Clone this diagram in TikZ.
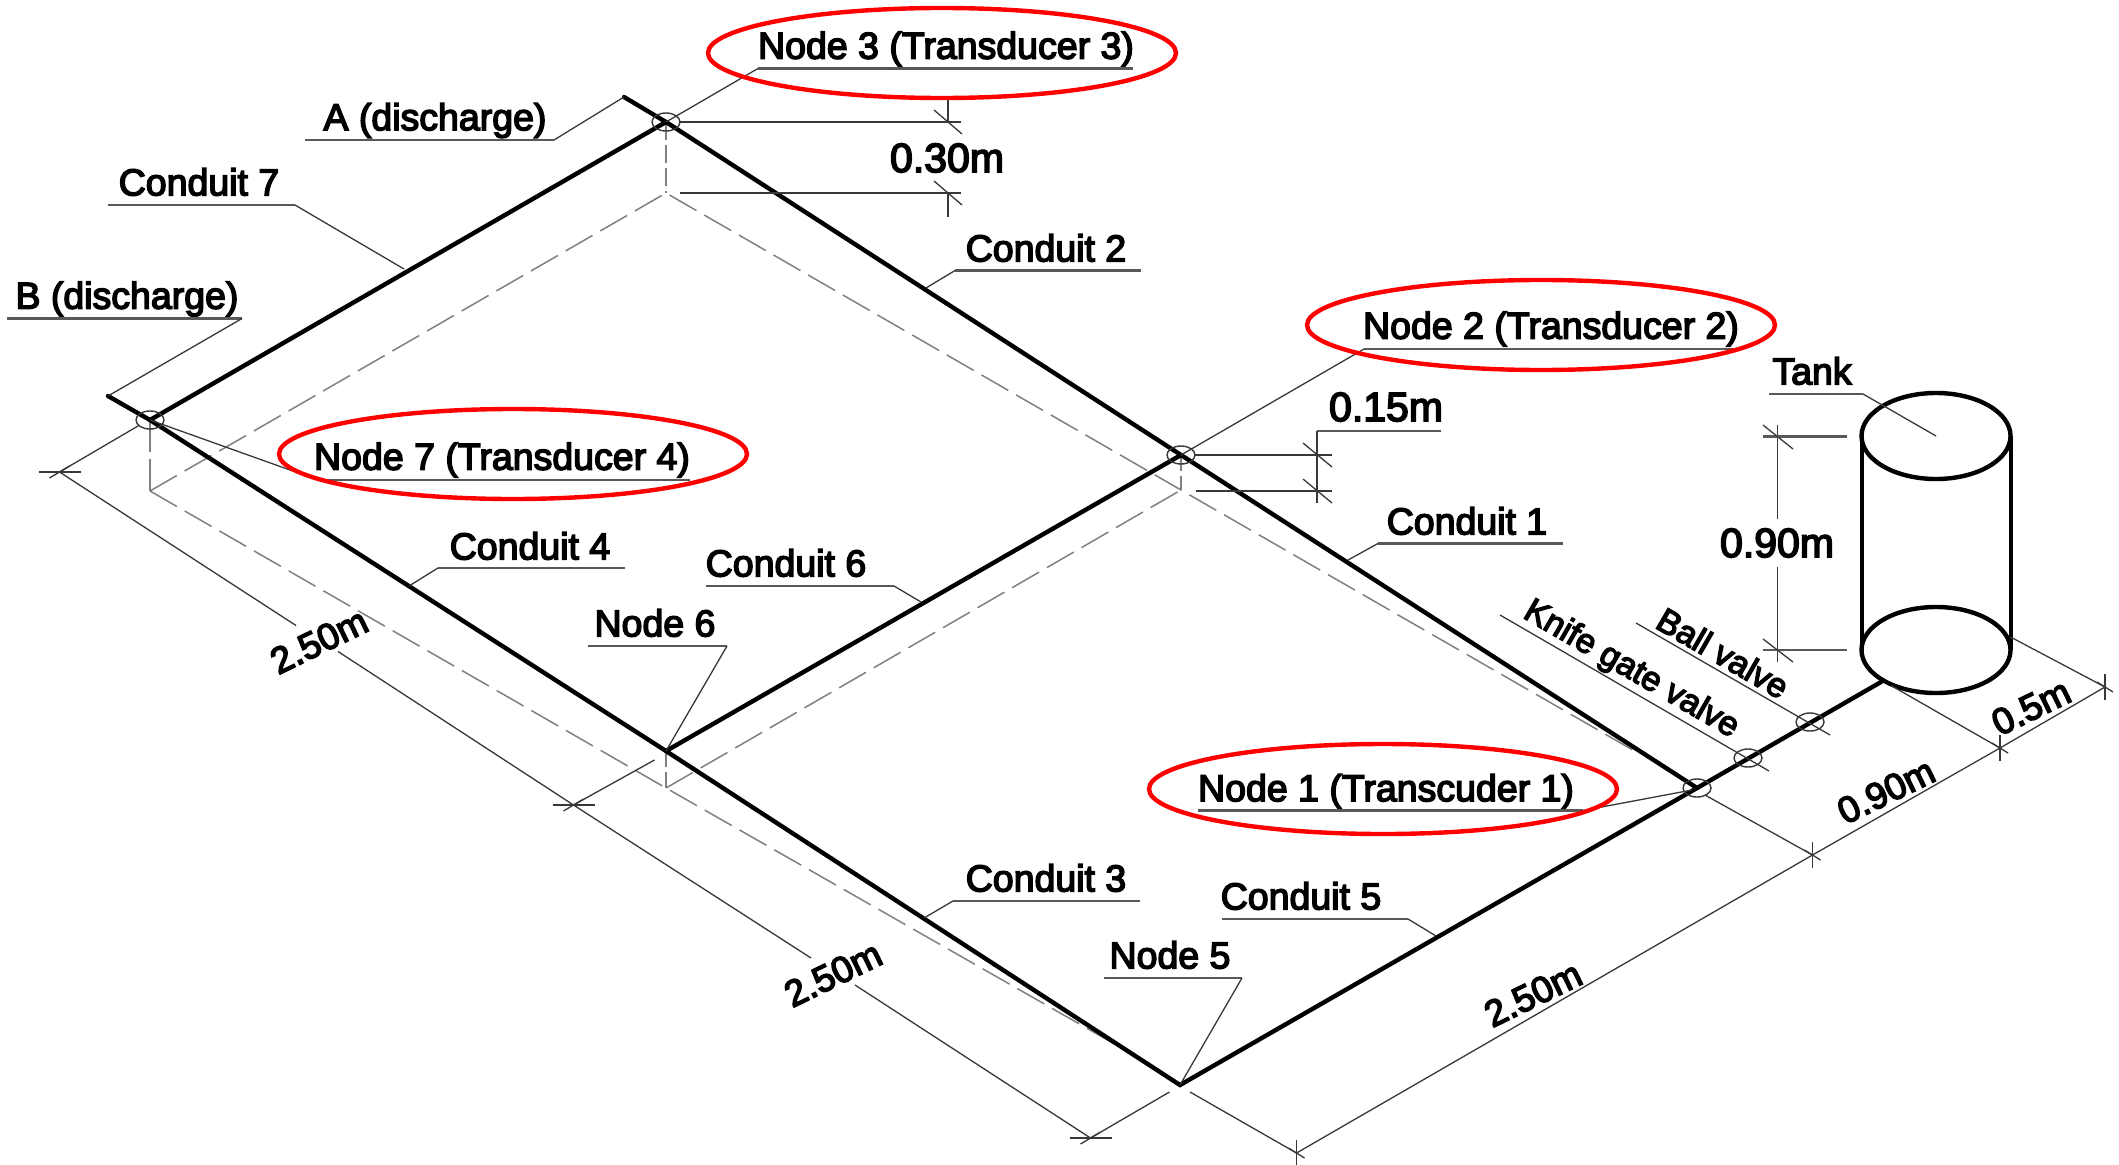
\documentclass[tikz,border=0pt]{standalone}
\usepackage{fontspec}
\setmainfont[FakeBold=4]{Liberation Sans}
\usetikzlibrary{shapes.geometric,calc}
\definecolor{dimc}{gray}{0.22}
\definecolor{dashc}{gray}{0.5}
\tikzset{
  pipe/.style={line width=4.4pt,black,line cap=round,line join=miter},
  tankline/.style={line width=4pt,black},
  hidden/.style={line width=1.5pt,dashc,dash pattern=on 31pt off 9pt},
  dimline/.style={line width=1.3pt,dimc},
  rule/.style={line width=2.3pt,black!65},
  lead/.style={line width=1.3pt,dimc},
  lbl/.style={inner sep=0pt,font=\fontsize{37.5}{37.5}\selectfont,text=black},
  dimlbl/.style={lbl,font=\fontsize{41}{41}\selectfont},
  slantlbl/.style={lbl,font=\fontsize{37}{37}\selectfont},
  valvelbl/.style={lbl,font=\fontsize{34}{34}\selectfont},
  redring/.style={ellipse,draw=red,line width=4.4pt,inner sep=0pt,minimum width=468pt,minimum height=90pt},
  joint/.style={ellipse,draw=dimc,line width=1.4pt,inner sep=0pt,minimum width=28pt,minimum height=18pt},
  tanklid/.style={ellipse,draw=black,line width=4.4pt,inner sep=0pt,minimum width=149pt,minimum height=86pt,fill=white}
}
% label text + underline + leader
\newcommand{\tagline}[8]{%
  \node[lbl] (#1) at (#3,#4) {#2};
  \coordinate (#1a) at (#5,#7);
  \coordinate (#1b) at (#6,#7);
  \draw[rule] (#1a) -- (#1b);
  \draw[lead] (#8) -- (#1b);
}
\newcommand{\tagleft}[8]{%
  \node[lbl] (#1) at (#3,#4) {#2};
  \coordinate (#1a) at (#5,#7);
  \coordinate (#1b) at (#6,#7);
  \draw[rule] (#1a) -- (#1b);
  \draw[lead] (#8) -- (#1a);
}
\begin{document}
\begin{tikzpicture}[x=1pt,y=-1pt]
\useasboundingbox (0,0) rectangle (2119,1164);
\fill[white] (0,0) rectangle (2119,1164);
% ---- plan points
\coordinate (Aend) at (624,97);
\coordinate (Bend) at (108,396);
\coordinate (N3) at (666,122);
\coordinate (N2) at (1181,455);
\coordinate (N1) at (1697,788);
\coordinate (N5) at (1180,1085);
\coordinate (N6) at (666,751);
\coordinate (N7) at (150,420);
\coordinate (TankIn) at (1881,682);
\coordinate (V1) at (1748,758);
\coordinate (V2) at (1810,722);
% ---- hidden (dashed) lower layout
\coordinate (D3) at (666,193);
\coordinate (D2) at (1181,490);
\coordinate (D6) at (666,788);
\coordinate (D7) at (150,491);
\coordinate (D1e) at (1638,753);
\coordinate (D5e) at (1125,1050);
\draw[hidden] (D7) -- (D3) -- (D2) -- (D1e);
\draw[hidden] (D7) -- (D6) -- (D5e);
\draw[hidden] (D6) -- (D2);
\draw[hidden,dash pattern=on 18pt off 5pt] (N3) -- (D3);
\draw[hidden,dash pattern=on 16pt off 5pt] (N2) -- (D2);
\draw[hidden,dash pattern=on 16pt off 5pt] (N6) -- (D6);
\draw[hidden,dash pattern=on 32pt off 7pt] (N7) -- (D7);
% ---- pipes
\draw[pipe] (Aend) -- (N3) -- (N2) -- (N1);
\draw[pipe] (Bend) -- (N7) -- (N6) -- (N5) -- (N1) -- (TankIn);
\draw[pipe] (N7) -- (N3);
\draw[pipe] (N6) -- (N2);
% ---- joints
\node[joint] (J3) at (N3) {};
\node[joint] (J2) at (N2) {};
\node[joint] (J1) at (N1) {};
\node[joint] (J7) at (N7) {};
\node[joint] (JV1) at (V1) {};
\node[joint] (JV2) at (V2) {};
% ---- tank
\node[tanklid] (TB) at (1936,650) {};
\draw[tankline] (1861.5,436) -- (1861.5,650);
\draw[tankline] (2010.5,436) -- (2010.5,650);
\node[tanklid,fill=none] (TT) at (1936,436) {};
\coordinate (TC) at (1936,436);
% ---- labels
\coordinate (c7p) at (404,269);
\coordinate (c2p) at (926,288);
\coordinate (c4p) at (409,586);
\coordinate (c6p) at (921,602);
\coordinate (c3p) at (924,918);
\coordinate (c5p) at (1436,936);
\coordinate (c1p) at (1348,560);
\coordinate (n1p) at (1692,790);
\tagleft{L3}{Node 3 (Transducer 3)}{946}{49}{758}{1133}{68.5}{N3}
\tagline{LA}{A (discharge)}{435}{120.5}{305}{554}{140}{Aend}
\tagline{L7c}{Conduit 7}{199}{182}{108}{295}{205}{c7p}
\tagline{LB}{B (discharge)}{127}{299}{7}{242}{318.5}{Bend}
\tagleft{L7}{Node 7 (Transducer 4)}{502}{460}{318}{690}{480}{N7}
\tagleft{L4c}{Conduit 4}{530}{546}{438}{625}{568}{c4p}
\tagline{L6c}{Conduit 6}{786}{563}{706}{894}{586}{c6p}
\tagline{L6}{Node 6}{655}{623}{588}{727}{646}{N6}
\tagleft{L2c}{Conduit 2}{1046}{248}{955}{1141}{270.5}{c2p}
\tagleft{L3c}{Conduit 3}{1046}{878}{953}{1140}{901}{c3p}
\tagline{L5c}{Conduit 5}{1301}{896}{1222}{1408}{919}{c5p}
\tagline{L5}{Node 5}{1170}{955}{1104}{1242}{978}{N5}
\tagleft{L1c}{Conduit 1}{1467}{521}{1378}{1563}{543.5}{c1p}
\tagleft{L2}{Node 2 (Transducer 2)}{1551}{329}{1364}{1736}{349}{N2}
\tagline{LT}{Tank}{1812}{371}{1769}{1863}{394}{TC}
\tagline{L1}{Node 1 (Transcuder 1)}{1386}{791.5}{1198}{1583}{810.5}{n1p}
% ---- valve labels
\node[valvelbl,rotate=-30] (LKn) at (1631,670) {Knife gate valve};
\node[valvelbl,rotate=-30] (LBa) at (1723,653) {Ball valve};
\coordinate (kn0) at (1500,615);
\coordinate (kn1) at (1769,771);
\coordinate (ba0) at (1636,623);
\coordinate (ba1) at (1830,735);
\draw[lead] (kn0) -- (kn1);
\draw[lead] (ba0) -- (ba1);
% ---- 0.30m
\coordinate (a1) at (680,122);
\coordinate (a2) at (961,122);
\coordinate (a3) at (680,193);
\coordinate (a4) at (961,193);
\coordinate (at) at (948,122);
\coordinate (ab) at (948,193);
\draw[dimline] (a1) -- (a2);
\draw[dimline] (a3) -- (a4);
\draw[dimline] (948,99) -- (at);
\draw[dimline] (ab) -- (948,217);
\draw[dimline] (934,110) -- (962,134);
\draw[dimline] (934,181) -- (962,205);
\node[dimlbl] (L30) at (947,158) {0.30m};
% ---- 0.15m
\node[dimlbl] (L15) at (1386,407) {0.15m};
\coordinate (b0) at (1441,431);
\coordinate (b1) at (1317,431);
\coordinate (b2) at (1317,503);
\draw[rule] (b0) -- (b1);
\draw[dimline] (b1) -- (b2);
\draw[dimline] (1195,455) -- (1332,455);
\draw[dimline] (1196,491) -- (1332,491);
\draw[dimline] (1303,443) -- (1332,467);
\draw[dimline] (1303,479) -- (1332,503);
% ---- 0.90m tank height
\node[dimlbl] (L90v) at (1777,543) {0.90m};
\draw[dimline] (1777.5,425) -- (1777.5,519);
\draw[dimline] (1777.5,567) -- (1777.5,662);
\draw[rule] (1763,436.5) -- (1847,436.5);
\draw[rule] (1763,650) -- (1847,650);
\draw[dimline] (1763,425) -- (1793,449);
\draw[dimline] (1763,639) -- (1793,662);
% ---- plan dimensions, left side
\coordinate (t1) at (59.5,472);
\coordinate (t2) at (573.5,805);
\coordinate (t3) at (1090.5,1138);
\draw[dimline] (138,426) -- (t1) -- (296,625.5);
\draw[dimline] (338,651.5) -- (t2) -- (811,958);
\draw[dimline] (654.5,760) -- (t2);
\draw[dimline] (855,985) -- (t3) -- (1169.5,1092);
\node[slantlbl,rotate=26] (L25a) at (319,641) {2.50m};
\node[slantlbl,rotate=26] (L25b) at (833,974) {2.50m};
\foreach \t in {t1,t2,t3}{
  \draw[dimline] ($(\t)+(-21,0)$) -- ($(\t)+(21,0)$);
  \draw[dimline] ($(\t)+(-10,6)$) -- ($(\t)+(10,-6)$);
}
% ---- plan dimensions, right side
\coordinate (r1) at (1296.5,1153);
\coordinate (r2) at (1812.5,855);
\coordinate (r3) at (2000,748);
\coordinate (r4) at (2105,687);
\draw[dimline] (1190,1092) -- (r1) -- (r2) -- (r3) -- (r4);
\draw[dimline] (1705,795) -- (r2);
\draw[dimline] (1891,685.5) -- (r3);
\draw[dimline] (2010.5,637) -- (r4);
\node[slantlbl,rotate=26] (L25c) at (1533,994) {2.50m};
\node[slantlbl,rotate=26] (L90h) at (1886,791) {0.90m};
\node[slantlbl,rotate=26] (L05) at (2031,707) {0.5m};
\foreach \t in {r1,r2,r3,r4}{
  \draw[dimline] ($(\t)+(0,-13)$) -- ($(\t)+(0,13)$);
  \draw[dimline] ($(\t)+(-8,-5)$) -- ($(\t)+(8,5)$);
}
% ---- red rings
\node[redring] (E3) at (942,53) {};
\node[redring] (E2) at (1541,325) {};
\node[redring] (E7) at (513,454) {};
\node[redring] (E1) at (1383,789) {};
\end{tikzpicture}
\end{document}
